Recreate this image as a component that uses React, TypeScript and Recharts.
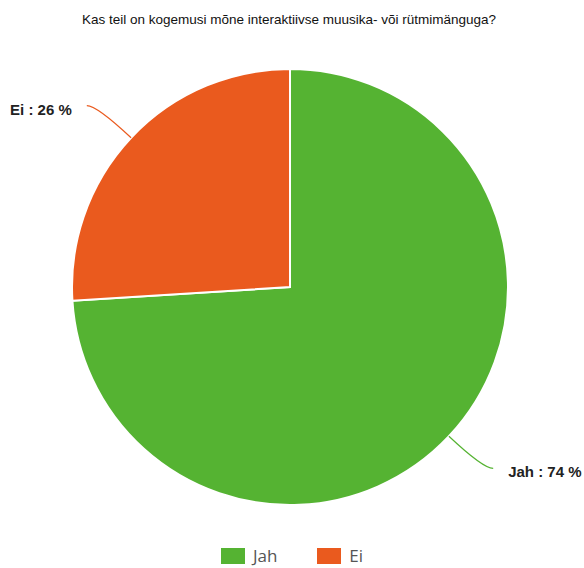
import React from "react";
import { PieChart, Pie, Cell, Legend } from "recharts";

const title = "Kas teil on kogemusi mõne interaktiivse muusika- või rütmimänguga?";
const categories = ["Jah", "Ei"];
const values = [74, 26];
const colors = ["#55B332", "#EA5A1E"];

const data = categories.map((name, i) => ({ name, value: values[i] }));

const RAD = Math.PI / 180;

const renderLabel = (props: any) => {
  const { cx, cy, midAngle, outerRadius, name, value, index } = props;
  const cos = Math.cos(-midAngle * RAD);
  const sin = Math.sin(-midAngle * RAD);
  const sx = cx + outerRadius * cos;
  const sy = cy + outerRadius * sin;
  const ex = cx + (outerRadius + 47) * cos;
  const ey = cy + (outerRadius + 47) * sin;
  const sign = cos >= 0 ? 1 : -1;
  const tx = ex + sign * 10;
  const ty = ey;
  return (
    <g>
      <path
        d={`M${sx},${sy} Q${ex},${ey} ${tx},${ty}`}
        stroke={colors[index]}
        strokeWidth={1.2}
        fill="none"
      />
      <text
        x={tx + sign * 15}
        y={ty + 3.5}
        textAnchor={sign > 0 ? "start" : "end"}
        dominantBaseline="central"
        fontFamily="Liberation Sans, Arial, sans-serif"
        fontSize={15}
        fontWeight="bold"
        fill="#222"
      >
        {`${name} : ${value} %`}
      </text>
    </g>
  );
};

const renderLegend = () => (
  <div
    style={{
      display: "flex",
      justifyContent: "center",
      gap: 40,
      fontFamily: "Open Sans, sans-serif",
      fontSize: 17,
      lineHeight: "20px",
      color: "#555",
    }}
  >
    {categories.map((c, i) => (
      <div key={c} style={{ display: "flex", alignItems: "center" }}>
        <span
          style={{
            display: "inline-block",
            width: 24,
            height: 16,
            background: colors[i],
            marginRight: 8,
          }}
        />
        <span>{c}</span>
      </div>
    ))}
  </div>
);

export default function App() {
  return (
    <div style={{ position: "absolute", left: 0, top: 0, width: 584, height: 568, background: "#fff" }}>
      <PieChart width={584} height={568} margin={{ top: 0, right: 0, bottom: 0, left: 0 }}>
        <text
          x={289}
          y={24}
          textAnchor="middle"
          fontFamily="Liberation Sans, Arial, sans-serif"
          fontSize={13.5}
          fill="#111"
        >
          {title}
        </text>
        <Pie
          data={data}
          dataKey="value"
          nameKey="name"
          cx={290}
          cy={287}
          outerRadius={218}
          startAngle={90}
          endAngle={-270}
          stroke="#fff"
          strokeWidth={2}
          label={renderLabel}
          labelLine={false}
          isAnimationActive={false}
        >
          {data.map((d, i) => (
            <Cell key={d.name} fill={colors[i]} />
          ))}
        </Pie>
        <Legend
          content={renderLegend}
          verticalAlign="bottom"
          wrapperStyle={{ bottom: 2, left: 0, width: 584 }}
        />
      </PieChart>
    </div>
  );
}
